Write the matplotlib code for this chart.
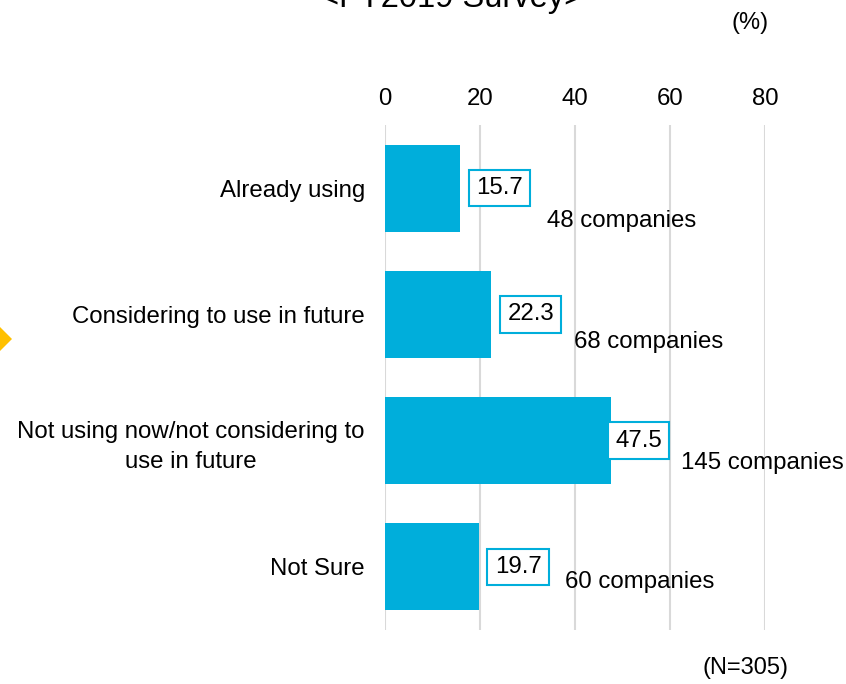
import numpy as np
import matplotlib
matplotlib.use('Agg')
import matplotlib.pyplot as plt
from matplotlib.patches import Polygon

plt.rcParams['font.family'] = ['Liberation Sans', 'DejaVu Sans']

categories = ['Already using',
              'Considering to use in future',
              'Not using now/not considering to\nuse in future',
              'Not Sure']
percent = [15.7, 22.3, 47.5, 19.7]
companies = [48, 68, 145, 60]
xticks = [0, 20, 40, 60, 80]

# label placement (pixels from bar end), tuned by eye
box_dx = [40, 40, 28, 39.5]
comp_dx = [87, 83, 70, 86]
comp_dy = [-33, -27.5, -22.5, -15.5]

bar_color = '#00AEDB'
grid_color = '#D9D9D9'
fs = 17.3

fig = plt.figure(figsize=(8.46, 6.84), dpi=100)
ax = fig.add_axes([385 / 846, 54 / 684, 380 / 846, 505 / 684])

y = np.arange(len(categories))
ax.barh(y, percent, height=0.69, color=bar_color, zorder=2)
ax.set_ylim(3.5, -0.5)
ax.set_xlim(0, 80)
ax.set_xticks(xticks)
ax.set_yticks(y)
ax.set_yticklabels(categories, multialignment='center', linespacing=1.45)
ax.xaxis.tick_top()
ax.tick_params(axis='x', length=0, pad=10.5, labelsize=fs)
ax.tick_params(axis='y', length=0, pad=14.5, labelsize=fs)
ax.grid(axis='x', color=grid_color, linewidth=1.5, zorder=0)
ax.set_axisbelow(True)
for s in ax.spines.values():
    s.set_visible(False)

for i, v in enumerate(percent):
    ax.annotate(f'{v:.1f}', xy=(v, i), xytext=(box_dx[i], 0),
                textcoords='offset pixels', ha='center', va='center',
                fontsize=fs, zorder=4,
                bbox=dict(boxstyle='square,pad=0.3', fc='white',
                          ec=bar_color, lw=1.5))
    ax.annotate(f'{companies[i]} companies', xy=(v, i),
                xytext=(comp_dx[i], comp_dy[i]), textcoords='offset pixels',
                ha='left', va='center', fontsize=fs, zorder=4)

fig.text(451.5 / 846, 1 - 7 / 684, '<FY2019 Survey>', ha='center',
         va='baseline', fontsize=23.5)
fig.text(750 / 846, 1 - 23 / 684, '(%)', ha='center', va='center',
         fontsize=17)
fig.text(745 / 846, 1 - 668 / 684, '(N=305)', ha='center', va='center',
         fontsize=17)

# yellow arrow tip on the left edge
pts = np.array([[12, 339], [-14, 313], [-40, 339], [-14, 365]], dtype=float)
pts[:, 0] /= 846
pts[:, 1] = 1 - pts[:, 1] / 684
fig.patches.append(Polygon(pts, closed=True, transform=fig.transFigure,
                           fc='#FFC000', ec='none', figure=fig))

fig.savefig('out.png', dpi=100)
